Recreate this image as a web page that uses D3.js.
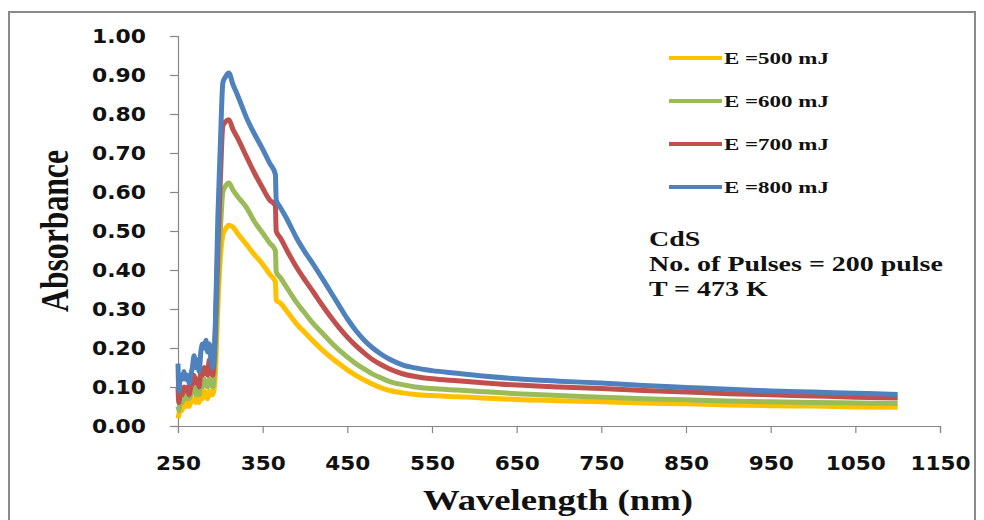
<!DOCTYPE html>
<html>
<head>
<meta charset="utf-8">
<script src="https://d3js.org/d3.v7.min.js"></script>
<style>
  body { margin: 0; background: #fff; }
  svg { display: block; }
</style>
</head>
<body>
<div id="chart"></div>
<script>
// Wavelength (nm) shared by all four spectra
const wavelengths = [250, 251, 253, 255, 257, 259, 261, 263, 265, 267, 269, 271, 273, 275, 277, 279, 281, 283, 285, 287, 289, 291,
    294, 297, 300, 303, 306, 310, 315, 320, 331, 340, 350, 358, 365, 366, 371, 380, 390, 400, 410, 420, 430, 440, 450,
    460, 470, 480, 490, 500, 515, 530, 550, 580, 610, 650, 700, 750, 800, 850, 900, 950, 1000, 1050, 1100];

const abs500 = [0.02, 0.03, 0.05, 0.04, 0.06, 0.05, 0.06, 0.05, 0.06, 0.07, 0.07, 0.06, 0.08, 0.06, 0.08, 0.07, 0.09, 0.08, 0.07, 0.09, 0.08, 0.08,
    0.13, 0.30, 0.43, 0.49, 0.505, 0.515, 0.51, 0.495, 0.465, 0.44, 0.415, 0.39, 0.37, 0.323, 0.315, 0.29, 0.262, 0.239, 0.217, 0.196, 0.177, 0.16, 0.144,
    0.13, 0.118, 0.107, 0.098, 0.091, 0.085, 0.081, 0.078, 0.075, 0.072, 0.068, 0.065, 0.062, 0.059, 0.057, 0.054, 0.052, 0.051, 0.049, 0.048];

const abs600 = [0.05, 0.04, 0.07, 0.06, 0.08, 0.07, 0.08, 0.07, 0.08, 0.09, 0.10, 0.08, 0.10, 0.08, 0.11, 0.10, 0.12, 0.11, 0.10, 0.12, 0.11, 0.10,
    0.18, 0.36, 0.50, 0.60, 0.615, 0.623, 0.605, 0.59, 0.56, 0.525, 0.495, 0.47, 0.45, 0.395, 0.38, 0.35, 0.317, 0.289, 0.262, 0.239, 0.216, 0.195, 0.177,
    0.16, 0.146, 0.133, 0.123, 0.114, 0.106, 0.1, 0.096, 0.092, 0.088, 0.083, 0.078, 0.074, 0.07, 0.067, 0.064, 0.062, 0.06, 0.059, 0.058];

const abs700 = [0.10, 0.06, 0.09, 0.08, 0.10, 0.09, 0.10, 0.08, 0.10, 0.11, 0.13, 0.11, 0.12, 0.10, 0.14, 0.13, 0.15, 0.14, 0.13, 0.17, 0.14, 0.13,
    0.24, 0.45, 0.63, 0.77, 0.78, 0.785, 0.76, 0.74, 0.69, 0.65, 0.61, 0.58, 0.565, 0.50, 0.482, 0.445, 0.407, 0.374, 0.343, 0.311, 0.281, 0.253, 0.228,
    0.206, 0.187, 0.17, 0.157, 0.146, 0.134, 0.127, 0.121, 0.116, 0.111, 0.105, 0.1, 0.096, 0.091, 0.087, 0.083, 0.08, 0.077, 0.074, 0.072];

const abs800 = [0.16, 0.09, 0.13, 0.12, 0.14, 0.12, 0.13, 0.11, 0.13, 0.15, 0.18, 0.15, 0.17, 0.14, 0.19, 0.21, 0.20, 0.22, 0.19, 0.21, 0.17, 0.15,
    0.25, 0.53, 0.72, 0.88, 0.895, 0.905, 0.875, 0.85, 0.79, 0.75, 0.71, 0.675, 0.645, 0.58, 0.56, 0.525, 0.482, 0.446, 0.414, 0.38, 0.345, 0.31, 0.275,
    0.245, 0.22, 0.2, 0.184, 0.171, 0.157, 0.149, 0.142, 0.135, 0.128, 0.121, 0.115, 0.11, 0.104, 0.099, 0.094, 0.09, 0.087, 0.084, 0.081];

const seriesNames = ["E =500 mJ", "E =600 mJ", "E =700 mJ", "E =800 mJ"];
const seriesValues = [abs500, abs600, abs700, abs800];
const seriesColors = ["#FFC000", "#9BBB59", "#C0504D", "#4F81BD"];

const xTicks = [250, 350, 450, 550, 650, 750, 850, 950, 1050, 1150];
const yTicks = [0, 0.1, 0.2, 0.3, 0.4, 0.5, 0.6, 0.7, 0.8, 0.9, 1.0];

const noteLines = ["CdS", "No. of Pulses = 200 pulse", "T = 473 K"];

const width = 984;
const height = 520;

const svg = d3.select("#chart")
    .append("svg")
    .attr("width", width)
    .attr("height", height);

// outer frame (bottom edge runs off the picture)
svg.append("rect")
    .attr("x", 9)
    .attr("y", 12)
    .attr("width", 966)
    .attr("height", 530)
    .attr("fill", "none")
    .attr("stroke", "#8a8a8a")
    .attr("stroke-width", 2);

const x = d3.scaleLinear().domain([250, 1150]).range([178, 940]);
const y = d3.scaleLinear().domain([0, 1]).range([426, 36]);

// stretch text horizontally, the source picture is wider than it was drawn
function stretch(sel, factor) {
    sel.each(function() {
        const w = this.getComputedTextLength();
        d3.select(this).attr("textLength", w * factor).attr("lengthAdjust", "spacingAndGlyphs");
    });
}

const xAxis = svg.append("g")
    .attr("transform", `translate(0,${y(0)})`)
    .call(d3.axisBottom(x).tickValues(xTicks).tickSize(7).tickPadding(23).tickFormat(d3.format("d")));

const yAxis = svg.append("g")
    .attr("transform", `translate(${x(250)},0)`)
    .call(d3.axisLeft(y).tickValues(yTicks).tickSize(8).tickPadding(24).tickFormat(d3.format(".2f")));

[xAxis, yAxis].forEach(g => {
    g.select(".domain").attr("stroke", "#868686").attr("stroke-width", 1.2);
    g.selectAll(".tick line").attr("stroke", "#868686").attr("stroke-width", 1.2);
    g.selectAll(".tick text")
        .attr("fill", "#111")
        .style("font-family", "'DejaVu Sans', sans-serif")
        .style("font-weight", "bold");
});
xAxis.selectAll(".tick text").style("font-size", "20px");
yAxis.selectAll(".tick text").style("font-size", "19px");
stretch(xAxis.selectAll(".tick text"), 1.08);
stretch(yAxis.selectAll(".tick text"), 1.15);

// spectra, first series underneath
const line = d3.line()
    .x(d => x(d[0]))
    .y(d => y(d[1]))
    .curve(d3.curveMonotoneX);

seriesValues.forEach((vals, i) => {
    const pts = wavelengths.map((w, j) => [w, vals[j]]);
    svg.append("path")
        .datum(pts)
        .attr("d", line)
        .attr("fill", "none")
        .attr("stroke", seriesColors[i])
        .attr("stroke-width", 5)
        .attr("stroke-linejoin", "round");
});

// legend
const legend = svg.append("g").attr("transform", "translate(669,58)");
seriesNames.forEach((name, i) => {
    const row = legend.append("g").attr("transform", `translate(0,${i * 43})`);
    row.append("line")
        .attr("x1", 0).attr("x2", 53)
        .attr("stroke", seriesColors[i])
        .attr("stroke-width", 4);
    row.append("text")
        .attr("x", 55)
        .attr("y", 6)
        .attr("fill", "#111")
        .style("font-family", "'Liberation Serif', 'Times New Roman', serif")
        .style("font-weight", "bold")
        .style("font-size", "17px")
        .text(name)
        .call(stretch, 1.35);
});

// annotation block
svg.append("g").selectAll("text")
    .data(noteLines)
    .enter()
    .append("text")
    .attr("x", 649)
    .attr("y", (d, i) => 246 + i * 25)
    .attr("fill", "#111")
    .style("font-family", "'Liberation Serif', 'Times New Roman', serif")
    .style("font-weight", "bold")
    .style("font-size", "22px")
    .text(d => d)
    .call(stretch, 1.27);

// axis titles
svg.append("text")
    .attr("x", 558)
    .attr("y", 510)
    .attr("text-anchor", "middle")
    .attr("fill", "#111")
    .style("font-family", "'Liberation Serif', 'Times New Roman', serif")
    .style("font-weight", "bold")
    .style("font-size", "30px")
    .attr("textLength", 270)
    .attr("lengthAdjust", "spacingAndGlyphs")
    .text("Wavelength (nm)");

svg.append("text")
    .attr("transform", "translate(68,231) rotate(-90)")
    .attr("text-anchor", "middle")
    .attr("fill", "#111")
    .style("font-family", "'Liberation Serif', 'Times New Roman', serif")
    .style("font-weight", "bold")
    .style("font-size", "40px")
    .attr("textLength", 162)
    .attr("lengthAdjust", "spacingAndGlyphs")
    .text("Absorbance");
</script>
</body>
</html>
